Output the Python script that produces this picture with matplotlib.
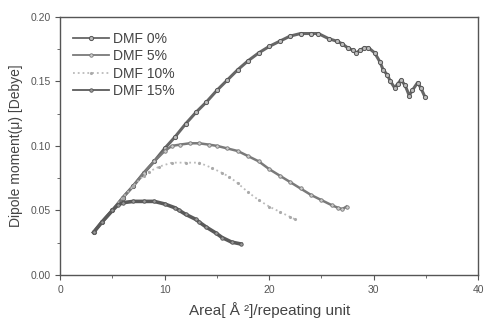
import matplotlib
matplotlib.use("Agg")
import matplotlib.pyplot as plt
from matplotlib.ticker import MultipleLocator, FormatStrFormatter

plt.rcParams['font.family'] = ['Liberation Sans', 'DejaVu Sans']

# DMF 0%
x0 = [3.2, 4, 5, 6, 7, 8, 9, 10, 11, 12, 13, 14, 15, 16, 17, 18, 19, 20, 21, 22, 23, 24,
      24.7, 25.7, 26.5, 27, 27.5, 28, 28.3, 28.7, 29.1, 29.5, 30.1, 30.6, 30.9, 31.3, 31.6,
      32.0, 32.3, 32.6, 33.0, 33.4, 33.7, 34.2, 34.5, 34.9]
y0 = [0.033, 0.041, 0.050, 0.060, 0.069, 0.079, 0.088, 0.098, 0.107, 0.117, 0.126, 0.134,
      0.143, 0.151, 0.159, 0.166, 0.172, 0.177, 0.181, 0.185, 0.187, 0.187,
      0.187, 0.183, 0.181, 0.179, 0.176, 0.174, 0.172, 0.174, 0.176, 0.176, 0.172, 0.165,
      0.159, 0.155, 0.150, 0.145, 0.148, 0.151, 0.147, 0.139, 0.143, 0.149, 0.145, 0.138]

# DMF 5%
x5 = [3.2, 4, 5, 6, 7, 8, 9, 10, 10.7, 11.5, 12.4, 13.3, 14.2, 15, 16, 17, 18, 19, 20, 21,
      22, 23, 24, 25, 26, 26.6, 27, 27.4]
y5 = [0.033, 0.041, 0.050, 0.060, 0.069, 0.079, 0.088, 0.096, 0.100, 0.101, 0.102, 0.102,
      0.101, 0.100, 0.098, 0.096, 0.092, 0.088, 0.082, 0.077, 0.072, 0.067, 0.062, 0.058,
      0.054, 0.052, 0.051, 0.053]

# DMF 10%
x10 = [3.2, 4, 5, 6, 7, 8, 8.5, 9.5, 10.7, 12, 13.3, 14.5, 15.5, 16.2, 17, 18, 19, 20, 21,
       22, 22.5]
y10 = [0.033, 0.041, 0.050, 0.060, 0.069, 0.077, 0.080, 0.084, 0.087, 0.087, 0.087, 0.083,
       0.079, 0.076, 0.071, 0.064, 0.058, 0.053, 0.049, 0.045, 0.043]

# DMF 15%
x15 = [3.2, 4, 5, 5.5, 6, 7, 8, 9, 10, 11, 11.4, 12, 13, 13.3, 14, 14.9, 15.5, 16.4, 17.3]
y15 = [0.033, 0.041, 0.050, 0.054, 0.056, 0.057, 0.057, 0.057, 0.055, 0.052, 0.050, 0.047,
       0.043, 0.041, 0.037, 0.0325, 0.029, 0.0255, 0.024]

labels = ['DMF 0%', 'DMF 5%', 'DMF 10%', 'DMF 15%']

fig = plt.figure(figsize=(4.85, 3.22), dpi=100)
ax = fig.add_axes([0.124, 0.146, 0.862, 0.802])

ax.plot(x0, y0, color='#666666', lw=2.2, marker='o', ms=3, mfc='#bbbbbb', mec='#555555',
        mew=0.7, label=labels[0])
ax.plot(x5, y5, color='#7a7a7a', lw=1.8, marker='o', ms=2.5, mfc='#cccccc', mec='#777777',
        mew=0.6, label=labels[1])
ax.plot(x10, y10, color='#bbbbbb', lw=1.3, ls=':', marker='.', ms=2.5, mfc='#cccccc',
        mec='#aaaaaa', label=labels[2])
ax.plot(x15, y15, color='#5a5a5a', lw=2.6, marker='o', ms=2.5, mfc='#999999', mec='#555555',
        mew=0.6, label=labels[3])

ax.set_xlim(0, 40)
ax.set_ylim(0, 0.20)
ax.xaxis.set_major_locator(MultipleLocator(10))
ax.xaxis.set_minor_locator(MultipleLocator(5))
ax.yaxis.set_major_locator(MultipleLocator(0.05))
ax.yaxis.set_minor_locator(MultipleLocator(0.025))
ax.yaxis.set_major_formatter(FormatStrFormatter('%.2f'))

for s in ax.spines.values():
    s.set_color('#555555')
    s.set_linewidth(1.0)
ax.tick_params(which='both', direction='out', colors='#555555', labelsize=7.5, labelcolor='#555555')
ax.tick_params(which='major', length=3.5, width=0.8)
ax.tick_params(which='minor', length=2, width=0.6)

ax.set_xlabel('Area[ Å ²]/repeating unit', fontsize=11, color='#444444', labelpad=5)
ax.set_ylabel('Dipole moment(μ) [Debye]', fontsize=10, color='#444444', labelpad=5)

leg = ax.legend(loc='upper left', frameon=False, fontsize=10, handlelength=2.6,
                handletextpad=0.3, labelspacing=0.25, borderaxespad=0.5,
                bbox_to_anchor=(0.0, 0.99), numpoints=1)
for t in leg.get_texts():
    t.set_color('#444444')
for ln in leg.get_lines():
    ln.set_linewidth(1.3)

fig.savefig('out.png', dpi=100)
